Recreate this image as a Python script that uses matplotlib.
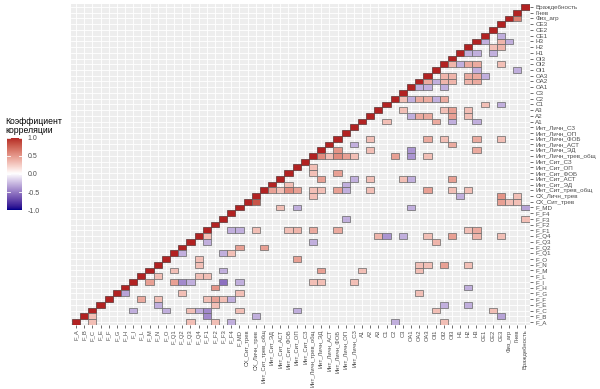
import numpy as np
import matplotlib
matplotlib.use('Agg')
import matplotlib.pyplot as plt
from matplotlib.colors import ListedColormap, Normalize
from matplotlib.patches import Rectangle

plt.rcParams['font.family'] = ['Liberation Sans', 'DejaVu Sans']

# variable order, bottom/left -> top/right
variables = ['F_A', 'F_B', 'F_C', 'F_E', 'F_F', 'F_G', 'F_H', 'F_I', 'F_L', 'F_M',
             'F_N', 'F_O', 'F_Q1', 'F_Q2', 'F_Q3', 'F_Q4', 'F_F1', 'F_F2', 'F_F3', 'F_F4',
             'F_MD', 'СХ_Сит_трев', 'СХ_Личн_трев', 'Инт_Сит_трев_общ', 'Инт_Сит_ЭД',
             'Инт_Сит_АСТ', 'Инт_Сит_ФОБ', 'Инт_Сит_ОП', 'Инт_Сит_СЗ', 'Инт_Личн_трев_общ',
             'Инт_Личн_ЭД', 'Инт_Личн_АСТ', 'Инт_Личн_ФОБ', 'Инт_Личн_ОП', 'Инт_Личн_СЗ',
             'А1', 'А2', 'А3', 'С1', 'С2', 'С3', 'ОА1', 'ОА2', 'ОА3', 'ОI1', 'ОI2', 'ОI3',
             'Н1', 'Н2', 'Н3', 'СЕ1', 'СЕ2', 'СЕ3', 'Физ_агр', 'Гнев', 'Враждебность']

# significant correlations below the diagonal, one line per row
cell_col = [54,
            52,
            50, 52, 53,
            51, 52,
            48, 49, 51,
            46, 47, 48, 49, 52,
            49, 54,
            45, 46, 48, 49, 50,
            43, 44, 45, 46, 48, 49,
            42, 43, 45,
            40, 41, 42, 43, 44, 45,
            50, 52,
            40, 45, 46, 48,
            41, 42, 43, 46, 48,
            38, 44, 46, 49,
            36, 43, 45, 49, 52,
            34, 46,
            32, 36, 41, 49,
            30, 31, 32, 33, 34, 39, 41, 43,
            29,
            29, 32,
            30, 34, 36, 40, 41, 46,
            26, 33,
            24, 25, 26, 27, 29, 30, 32, 33, 36, 43, 46, 48,
            29, 47, 52, 54,
            22, 52, 53, 54,
            25, 27, 41, 55,
            33, 55,
            19, 20, 22, 26, 27, 29, 32, 48, 49,
            16, 37, 38, 40, 43, 46, 49, 52,
            16, 29, 44,
            20, 23,
            13, 18, 19,
            15, 27,
            15, 42, 43, 45, 48,
            12, 18, 30, 35, 42,
            10, 15, 16,
            9, 12, 13, 14, 18, 20, 29, 30, 34,
            17, 48,
            6, 13, 20, 42,
            8, 10, 16, 17, 18, 19,
            10, 17, 45, 48,
            7, 11, 14, 15, 16, 20, 27, 44, 51,
            2, 16, 22, 52,
            2, 14, 17, 19, 39, 45]
cell_row = [53,
            50,
            49, 49, 49,
            48, 48,
            47, 47, 47,
            45, 45, 45, 45, 45,
            44, 44,
            43, 43, 43, 43, 43,
            42, 42, 42, 42, 42, 42,
            41, 41, 41,
            39, 39, 39, 39, 39, 39,
            38, 38,
            37, 37, 37, 37,
            36, 36, 36, 36, 36,
            35, 35, 35, 35,
            32, 32, 32, 32, 32,
            31, 31,
            30, 30, 30, 30,
            29, 29, 29, 29, 29, 29, 29, 29,
            27,
            26, 26,
            25, 25, 25, 25, 25, 25,
            24, 24,
            23, 23, 23, 23, 23, 23, 23, 23, 23, 23, 23, 23,
            22, 22, 22, 22,
            21, 21, 21, 21,
            20, 20, 20, 20,
            18, 18,
            16, 16, 16, 16, 16, 16, 16, 16, 16,
            15, 15, 15, 15, 15, 15, 15, 15,
            14, 14, 14,
            13, 13,
            12, 12, 12,
            11, 11,
            10, 10, 10, 10, 10,
            9, 9, 9, 9, 9,
            8, 8, 8,
            7, 7, 7, 7, 7, 7, 7, 7, 7,
            6, 6,
            5, 5, 5, 5,
            4, 4, 4, 4, 4, 4,
            3, 3, 3, 3,
            2, 2, 2, 2, 2, 2, 2, 2, 2,
            1, 1, 1, 1,
            0, 0, 0, 0, 0, 0]
cell_r = [0.6,
          -0.3,
          -0.3, 0.35, -0.3,
          0.3, 0.35,
          -0.3, -0.3, -0.3,
          0.35, -0.3, 0.4, 0.4, 0.3,
          -0.3, -0.3,
          0.35, 0.35, 0.4, 0.4, -0.3,
          0.4, -0.3, 0.35, 0.35, 0.35, 0.4,
          -0.3, -0.3, -0.3,
          0.3, -0.3, 0.4, 0.4, -0.3, 0.4,
          0.3, -0.3,
          0.3, 0.3, 0.45, 0.3,
          -0.3, 0.4, 0.4, 0.45, 0.3,
          0.3, 0.4, -0.3, -0.3,
          0.3, 0.4, 0.3, 0.4, 0.3,
          -0.3, 0.4,
          0.5, 0.3, -0.4, 0.4,
          0.55, 0.3, 0.55, 0.45, 0.3, 0.45, -0.4, 0.3,
          0.3,
          0.3, 0.45,
          0.45, -0.3, 0.3, 0.3, -0.3, 0.45,
          0.3, -0.3,
          0.45, 0.3, 0.55, 0.45, 0.3, 0.3, 0.45, -0.3, 0.3, 0.45, 0.3, 0.3,
          0.3, -0.3, 0.5, 0.3,
          0.8, 0.45, 0.3, 0.3,
          0.3, -0.3, -0.3, -0.35,
          -0.3, 0.3,
          -0.3, -0.3, 0.3, 0.3, 0.35, 0.4, 0.4, 0.3, 0.4,
          0.3, 0.35, -0.4, -0.3, 0.3, 0.45, 0.35, 0.3,
          -0.3, -0.3, 0.35,
          0.45, 0.45,
          -0.3, -0.3, 0.3,
          0.3, 0.45,
          0.3, 0.3, 0.3, 0.45, 0.3,
          0.3, -0.3, 0.45, 0.3, 0.3,
          0.3, 0.3, 0.3,
          0.45, 0.45, -0.45, -0.3, -0.55, -0.3, 0.3, 0.3, 0.3,
          0.5, -0.3,
          -0.35, 0.3, 0.3, 0.3,
          0.4, 0.3, 0.3, 0.45, 0.3, -0.3,
          -0.3, 0.3, -0.3, -0.3,
          -0.3, -0.3, 0.3, -0.3, -0.45, 0.3, -0.3, 0.3, 0.3,
          0.3, -0.45, -0.3, -0.35,
          0.3, 0.3, 0.3, -0.3, -0.3, 0.3]


# colour scale: darkblue - white - firebrick, interpolated in CIELAB like ggplot
M = np.array([[0.4124, 0.3576, 0.1805],
              [0.2126, 0.7152, 0.0722],
              [0.0193, 0.1192, 0.9505]])
WHITE = np.array([0.95047, 1.0, 1.08883])


def to_lab(rgb):
    c = np.asarray(rgb, float)
    c = np.where(c <= 0.04045, c / 12.92, ((c + 0.055) / 1.055) ** 2.4)
    xyz = M @ c / WHITE
    f = np.where(xyz > 0.008856, np.cbrt(xyz), 7.787 * xyz + 16 / 116)
    return np.array([116 * f[1] - 16, 500 * (f[0] - f[1]), 200 * (f[1] - f[2])])


def from_lab(lab):
    fy = (lab[0] + 16) / 116
    f = np.array([fy + lab[1] / 500, fy, fy - lab[2] / 200])
    xyz = np.where(f ** 3 > 0.008856, f ** 3, (f - 16 / 116) / 7.787) * WHITE
    c = np.clip(np.linalg.solve(M, xyz), 0, 1)
    c = np.where(c <= 0.0031308, 12.92 * c, 1.055 * c ** (1 / 2.4) - 0.055)
    return np.clip(c, 0, 1)


low = to_lab(np.array([0, 0, 139]) / 255)
mid = to_lab([1, 1, 1])
high = to_lab(np.array([178, 34, 34]) / 255)
colors = []
for t in np.linspace(-1, 1, 256):
    end = low if t < 0 else high
    colors.append(from_lab(mid + abs(t) * (end - mid)))
cmap = ListedColormap(colors)
norm = Normalize(-1, 1)

fig = plt.figure(figsize=(6, 3.89), dpi=100)
ax = fig.add_axes([71.1 / 600, 1 - 325.4 / 389, 459.3 / 600, 321.8 / 389])
ax.set_facecolor('#EDEDED')

n = len(variables)
for i in range(n):
    ax.add_patch(Rectangle((i - 0.5, i - 0.5), 1, 1, facecolor=cmap(norm(1.0)),
                           edgecolor='#5A3030', lw=0.5))
for i, j, r in zip(cell_col, cell_row, cell_r):
    ax.add_patch(Rectangle((i - 0.5, j - 0.5), 1, 1, facecolor=cmap(norm(r)),
                           edgecolor='#666666', lw=0.5))

ax.set_xlim(-0.6, n - 0.4)
ax.set_ylim(-0.6, n - 0.4)
ax.set_xticks(range(n))
ax.set_yticks(range(n))
ax.set_xticklabels(variables, rotation=90, fontsize=4.2, color='#4D4D4D')
ax.set_yticklabels(variables, fontsize=4.5, color='#4D4D4D')
ax.yaxis.tick_right()
ax.tick_params(length=2, width=0.5, color='#333333', pad=1.5)
ax.tick_params(axis='x', pad=1)
ax.grid(color='white', lw=0.6)
ax.set_axisbelow(True)
for s in ax.spines.values():
    s.set_visible(False)

# legend
cax = fig.add_axes([7.3 / 600, 1 - 210.5 / 389, 14.4 / 600, 73 / 389])
cax.imshow(np.linspace(1, -1, 300)[:, None], aspect='auto', cmap=cmap, norm=norm,
           extent=[0, 1, -1, 1])
ticks = [1.0, 0.5, 0.0, -0.5, -1.0]
for v in ticks:
    cax.plot([0, 0.2], [v, v], color='white', lw=0.6)
    cax.plot([0.8, 1], [v, v], color='white', lw=0.6)
cax.set_xlim(0, 1)
cax.set_ylim(-1, 1)
cax.set_xticks([])
cax.yaxis.tick_right()
cax.set_yticks(ticks)
cax.set_yticklabels(['1.0', '0.5', '0.0', '-0.5', '-1.0'], fontsize=5, color='#4D4D4D')
cax.tick_params(length=0, pad=4)
for s in cax.spines.values():
    s.set_visible(False)
fig.text(5 / 600, 1 - 126 / 389, 'Коэффициент\nкорреляции', fontsize=6.2,
         va='center', ha='left', linespacing=1.1)

fig.savefig('out.png', dpi=100)
